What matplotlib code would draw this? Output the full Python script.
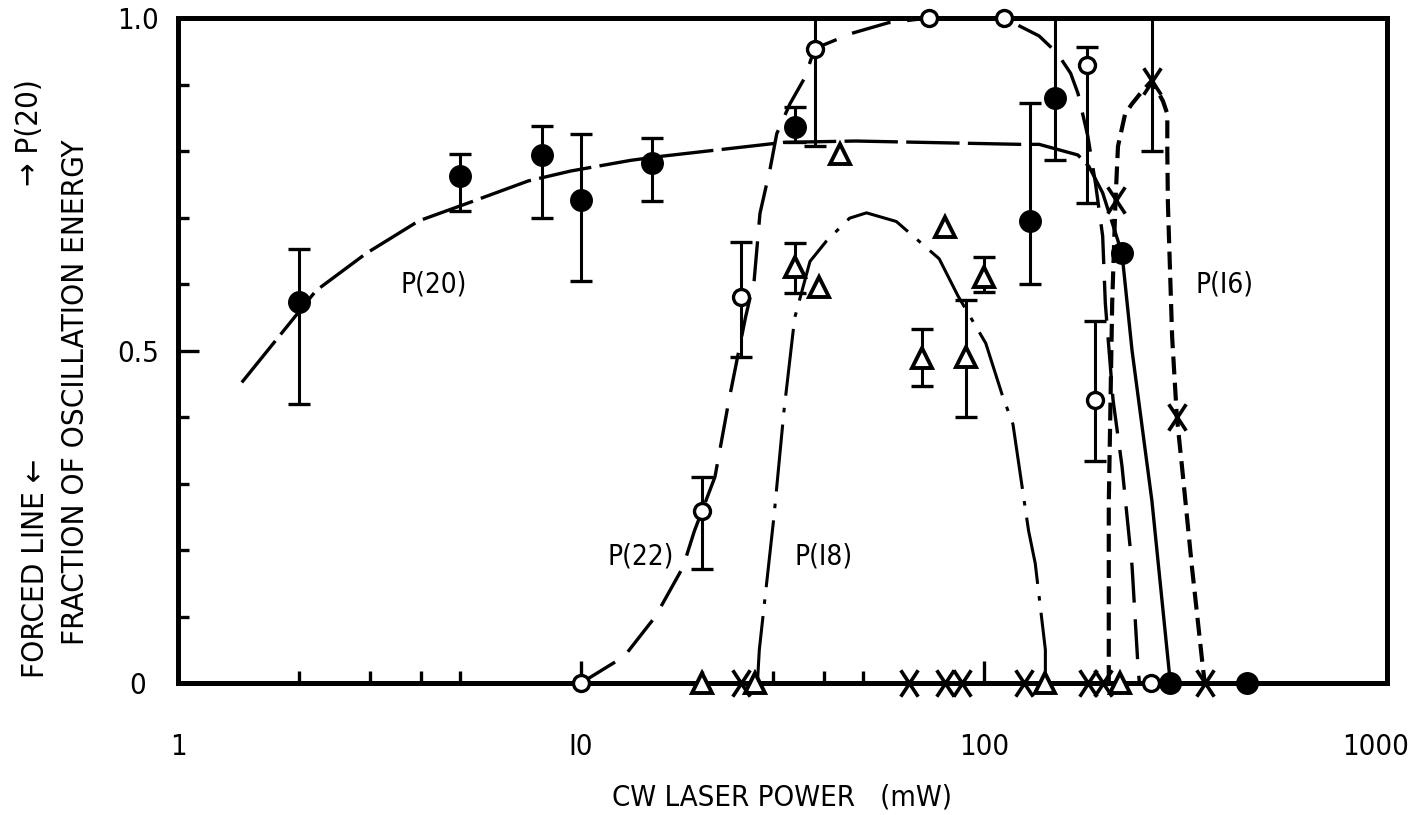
import matplotlib
matplotlib.use("Agg")
import matplotlib.pyplot as plt
import numpy as np
from matplotlib.path import Path
from matplotlib.transforms import ScaledTranslation

plt.rcParams['font.family'] = ['Liberation Sans Narrow', 'DejaVu Sans']
plt.rcParams['font.stretch'] = 'condensed'

# P(20) -- filled circles, error bars (None = no bar)
p20_x = [2, 5, 8, 10, 15, 34, 130, 150, 220, 290, 450]
p20_y = [0.573, 0.762, 0.794, 0.726, 0.782, 0.836, 0.695, 0.88, 0.646, 0.0, 0.0]
p20_lo = [0.42, 0.71, 0.70, 0.605, 0.725, 0.814, 0.60, 0.787, None, None, None]
p20_hi = [0.653, 0.796, 0.837, 0.825, 0.819, 0.866, 0.872, 1.0, None, None, None]

# P(22) -- open circles
p22_x = [10, 20, 25, 38, 73, 112, 180, 189, 260]
p22_y = [0.0, 0.258, 0.581, 0.954, 1.0, 1.0, 0.929, 0.426, 0.0]
p22_lo = [None, 0.171, 0.49, 0.808, None, None, 0.722, 0.334, None]
p22_hi = [None, 0.31, 0.663, 1.0, None, None, 0.957, 0.544, None]

# P(18) -- open triangles
p18_x = [20, 27, 34, 39, 44, 70, 80, 90, 100, 142, 218]
p18_y = [0.0, 0.0, 0.625, 0.595, 0.795, 0.488, 0.685, 0.49, 0.61, 0.0, 0.0]
p18_lo = [None, None, 0.587, None, None, 0.446, None, 0.40, 0.588, None, None]
p18_hi = [None, None, 0.662, None, None, 0.533, None, 0.576, 0.64, None, None]

# P(16) -- crosses
p16_x = [25, 65, 80, 88, 126, 181, 197, 212, 261, 301, 353]
p16_y = [0.0, 0.0, 0.0, 0.0, 0.0, 0.0, 0.0, 0.726, 0.906, 0.40, 0.0]
p16_lo = [None, None, None, None, None, None, None, None, 0.80, None, None]
p16_hi = [None, None, None, None, None, None, None, None, 1.0, None, None]

# hand-drawn guide curves
p20_fit_x = [1.44, 2.2, 2.93, 3.96, 5.26, 7.4, 9.45, 13.3, 15.8, 31.9, 48, 123, 137, 171, 182, 197, 220]
p20_fit_y = [0.452, 0.59, 0.646, 0.695, 0.722, 0.755, 0.77, 0.786, 0.792, 0.813, 0.815, 0.81, 0.81, 0.794, 0.777, 0.737, 0.646]
p20_drop_x = [220, 233, 261, 290]
p20_drop_y = [0.646, 0.50, 0.274, 0.0]

p22_fit_x = [10, 12.8, 15.3, 17.9, 19.1, 21.5, 23.3, 25.6, 26.9, 27.8, 29.5, 30.6, 33, 35.9, 38, 47, 58, 73,
             112, 137, 152, 164, 171, 181, 189, 197, 200, 209, 220, 233, 241, 243]
p22_fit_y = [0.0, 0.04, 0.10, 0.174, 0.228, 0.31, 0.426, 0.55, 0.606, 0.706, 0.775, 0.826, 0.871, 0.91, 0.954,
             0.977, 0.993, 1.0, 1.0, 0.973, 0.947, 0.917, 0.887, 0.822, 0.752, 0.672, 0.571, 0.426, 0.326,
             0.176, 0.026, 0.0]

p18_fit_x = [27.4, 27.7, 30.1, 31.9, 33.9, 37, 40.7, 46.4, 51.1, 60.6, 77.4, 86.2, 101, 111, 118, 129, 134, 142, 142]
p18_fit_y = [0.0, 0.05, 0.249, 0.41, 0.549, 0.634, 0.665, 0.699, 0.707, 0.694, 0.638, 0.582, 0.511, 0.433,
             0.389, 0.229, 0.18, 0.05, 0.0]

p16_fit_x = [204, 204, 208, 212, 215, 224, 233, 247, 261, 278, 285, 285, 286, 293, 301, 310, 328, 349, 353]
p16_fit_y = [0.0, 0.27, 0.571, 0.726, 0.807, 0.856, 0.871, 0.89, 0.906, 0.875, 0.856, 0.80, 0.72, 0.52,
             0.40, 0.325, 0.175, 0.025, 0.0]

x_ticks = [1, 10, 100, 1000]
x_tick_labels = ['1', 'I0', '100', '1000']
x_minor = [2, 3, 4, 5, 20, 30, 40, 50]
y_ticks = [0, 0.5, 1.0]
y_tick_labels = ['0', '0.5', '1.0']
y_minor = [0.1, 0.2, 0.3, 0.4, 0.6, 0.7, 0.8, 0.9]

W, H = 1417, 815
fig = plt.figure(figsize=(W / 100, H / 100), dpi=100)
ax = fig.add_axes([178 / W, 1 - 683 / H, (1387 - 178) / W, (683 - 18) / H])
ax.set_xscale('log')
ax.set_xlim(1, 1000)
ax.set_ylim(0, 1.0)

for s in ax.spines.values():
    s.set_linewidth(3.6)

# guide curves
ax.plot(p20_fit_x, p20_fit_y, color='k', lw=2.4, ls=(0, (16, 2.5)), zorder=2)
ax.plot(p20_drop_x, p20_drop_y, color='k', lw=2.4, zorder=2)
ax.plot(p22_fit_x, p22_fit_y, color='k', lw=2.4, ls=(0, (12, 5)), zorder=2)
ax.plot(p18_fit_x, p18_fit_y, color='k', lw=2.2, ls=(0, (22, 4, 1.5, 4)), zorder=2)
ax.plot(p16_fit_x, p16_fit_y, color='k', lw=3.0, ls=(0, (4.3, 2)), zorder=2)


def error_bars(xs, ys, lo, hi):
    idx = [i for i in range(len(xs)) if lo[i] is not None]
    ex = [xs[i] for i in idx]
    ey = [ys[i] for i in idx]
    err = [[ys[i] - lo[i] for i in idx], [hi[i] - ys[i] for i in idx]]
    ax.errorbar(ex, ey, yerr=err, fmt='none', ecolor='k', elinewidth=2.2,
                capsize=8, capthick=2.4, zorder=3, clip_on=False)


error_bars(p20_x, p20_y, p20_lo, p20_hi)
error_bars(p22_x, p22_y, p22_lo, p22_hi)
error_bars(p18_x, p18_y, p18_lo, p18_hi)
error_bars(p16_x, p16_y, p16_lo, p16_hi)

cross = Path([(-0.33, -0.5), (0.33, 0.5), (-0.33, 0.5), (0.33, -0.5)],
             [Path.MOVETO, Path.LINETO, Path.MOVETO, Path.LINETO])

ax.plot(p20_x, p20_y, 'o', ms=15.5, color='k', ls='none', zorder=5, clip_on=False)
ax.plot(p22_x, p22_y, 'o', ms=11.5, mfc='white', mec='k', mew=2.4, ls='none', zorder=5, clip_on=False)
ax.plot(p18_x, p18_y, '^', ms=14.5, mfc='white', mec='k', mew=2.8, ls='none', zorder=5, clip_on=False)
ax.plot(p16_x, p16_y, marker=cross, ms=19, mec='k', mew=2.6, ls='none', zorder=5, clip_on=False)

# series labels
ax.text(4.31, 0.60, 'P(20)', fontsize=20, ha='center', va='center')
ax.text(14.1, 0.19, 'P(22)', fontsize=20, ha='center', va='center')
ax.text(40, 0.19, 'P(I8)', fontsize=20, ha='center', va='center')
ax.text(396, 0.60, 'P(I6)', fontsize=20, ha='center', va='center')

# ticks: inward, few labels
ax.set_xticks(x_ticks, x_tick_labels, fontsize=21)
ax.set_xticks(x_minor, minor=True)
ax.set_xticklabels([], minor=True)
ax.set_yticks(y_ticks, y_tick_labels, fontsize=21)
ax.set_yticks(y_minor, minor=True)
ax.tick_params(axis='both', which='both', direction='in', width=2.4, top=False, right=False)
ax.tick_params(axis='x', which='major', length=16, pad=36)
ax.tick_params(axis='x', which='minor', length=9)
ax.tick_params(axis='y', which='major', length=15, pad=29)
ax.tick_params(axis='y', which='minor', length=8)
for lab in ax.get_yticklabels():
    lab.set_horizontalalignment('center')
# pull the last x label in from the right edge
last = ax.get_xticklabels()[-1]
last.set_transform(last.get_transform() + ScaledTranslation(-11 / 100, 0, fig.dpi_scale_trans))

ax.set_xlabel('CW LASER POWER   (mW)', fontsize=21, labelpad=16)

fig.text(76 / W, 1 - 392 / H, 'FRACTION OF OSCILLATION ENERGY', rotation=90,
         fontsize=22.5, ha='center', va='center')
fig.text(36 / W, 1 - 568 / H, 'FORCED LINE \u2190', rotation=90,
         fontsize=22.5, ha='center', va='center')
fig.text(30 / W, 1 - 133 / H, '\u2192 P(20)', rotation=90,
         fontsize=22.5, ha='center', va='center')

fig.savefig('out.png', dpi=100)
